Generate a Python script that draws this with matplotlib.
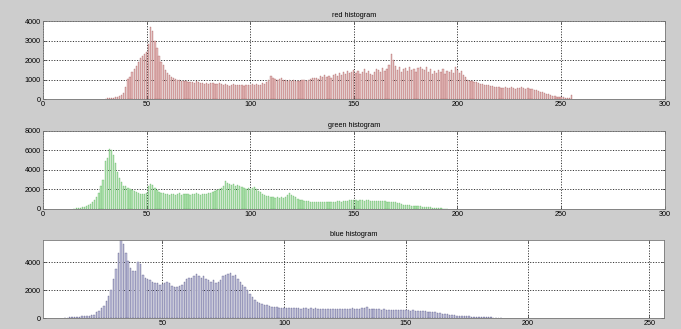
import numpy as np
import matplotlib
matplotlib.use('Agg')
import matplotlib.pyplot as plt

plt.rcParams['font.family'] = ['Liberation Sans', 'DejaVu Sans']

# histogram counts per intensity bin (0..255)
contagem_red = (
    [0] * 30 +
    [20, 30, 40, 50, 60, 80, 110, 150, 220, 320] +              # 30-39
    [600, 1050, 1150, 1400, 1550, 1700, 1900, 2100, 2200, 2300] +   # 40-49
    [2400, 2800, 3700, 3500, 3000, 2600, 2200, 1900, 1750, 1500] +  # 50-59
    [1350, 1250, 1150, 1100, 1050, 1000, 980, 950, 900, 920] +      # 60-69
    [880, 850, 870, 830, 900, 860, 800, 820, 790, 800] +            # 70-79
    [760, 820, 800, 780, 760, 820, 780, 740, 760, 700] +            # 80-89
    [680, 720, 760, 700, 740, 710, 700, 680, 700, 720] +            # 90-99
    [700, 760, 720, 780, 720, 740, 800, 780, 880, 1000] +           # 100-109
    [1200, 1100, 1050, 1000, 1050, 1100, 980, 1000, 950, 1000] +    # 110-119
    [900, 980, 920, 950, 900, 970, 1000, 950, 1000, 1050] +         # 120-129
    [1100, 1080, 1100, 1050, 1200, 1150, 1250, 1150, 1200, 1100] +  # 130-139
    [1250, 1300, 1200, 1350, 1250, 1400, 1300, 1450, 1350, 1400] +  # 140-149
    [1500, 1350, 1450, 1300, 1400, 1550, 1350, 1450, 1300, 1250] +  # 150-159
    [1400, 1550, 1500, 1400, 1600, 1450, 1550, 1750, 2300, 2000] +  # 160-169
    [1700, 1500, 1650, 1400, 1550, 1600, 1450, 1650, 1500, 1550] +  # 170-179
    [1400, 1600, 1650, 1550, 1500, 1650, 1400, 1550, 1300, 1450] +  # 180-189
    [1350, 1500, 1400, 1550, 1300, 1450, 1400, 1500, 1350, 1650] +  # 190-199
    [1500, 1350, 1450, 1250, 1150, 1000, 950, 900, 850, 880] +      # 200-209
    [800, 780, 760, 740, 700, 720, 680, 650, 640, 620] +            # 210-219
    [600, 580, 560, 620, 580, 550, 600, 560, 520, 580] +            # 220-229
    [560, 600, 580, 520, 560, 540, 500, 480, 450, 400] +            # 230-239
    [380, 340, 300, 280, 240, 200, 180, 150, 120, 100] +            # 240-249
    [90, 80, 70, 60, 50, 200]                                       # 250-255
)

contagem_green = (
    [0] * 15 +
    [30, 50, 80, 100, 150] +                                        # 15-19
    [200, 300, 400, 550, 700, 900, 1200, 1600, 2400, 3000] +        # 20-29
    [4900, 5200, 6100, 6000, 5500, 4700, 3800, 3200, 2800, 2400] +  # 30-39
    [2300, 2100, 2000, 1900, 1800, 1700, 1600, 1550, 1500, 1550] +  # 40-49
    [1600, 2300, 2600, 2500, 2100, 1900, 1700, 1650, 1600, 1550] +  # 50-59
    [1500, 1450, 1550, 1500, 1400, 1550, 1600, 1450, 1500, 1550] +  # 60-69
    [1500, 1450, 1550, 1500, 1600, 1500, 1450, 1550, 1500, 1550] +  # 70-79
    [1600, 1650, 1700, 1800, 1900, 2000, 2100, 2300, 2900, 2700] +  # 80-89
    [2600, 2500, 2600, 2400, 2500, 2300, 2200, 2100, 2000, 2100] +  # 90-99
    [2000, 2100, 2200, 2000, 1800, 1700, 1500, 1400, 1300, 1300] +  # 100-109
    [1200, 1250, 1150, 1200, 1100, 1200, 1150, 1250, 1400, 1600] +  # 110-119
    [1400, 1300, 1200, 1000, 950, 900, 850, 800, 780, 760] +        # 120-129
    [750, 720, 760, 740, 720, 700, 740, 720, 760, 730] +            # 130-139
    [740, 760, 780, 800, 760, 820, 800, 850, 880, 900] +            # 140-149
    [950, 880, 860, 900, 880, 850, 870, 880, 840, 820] +            # 150-159
    [860, 820, 800, 780, 820, 800, 760, 740, 720, 760] +            # 160-169
    [700, 650, 600, 550, 450, 400, 380, 360, 340, 320] +            # 170-179
    [300, 280, 260, 240, 220, 200, 170, 150, 120, 100] +            # 180-189
    [80, 60, 50, 40, 30, 20] +                                      # 190-195
    [0] * 60
)

contagem_blue = (
    [0] * 10 +
    [20, 30, 40, 50, 60, 80, 100, 110, 120, 130] +                  # 10-19
    [150, 200, 250, 400, 500, 700, 850, 1200, 1600, 2000] +         # 20-29
    [2800, 3500, 4700, 5600, 5300, 4700, 4100, 3600, 3400, 3400] +  # 30-39
    [4000, 3900, 3100, 2900, 2800, 2700, 2600, 2500, 2500, 2400] +  # 40-49
    [2450, 2550, 2600, 2500, 2300, 2200, 2200, 2300, 2400, 2600] +  # 50-59
    [2800, 2900, 2900, 3000, 3150, 3000, 2900, 3000, 2800, 2750] +  # 60-69
    [2600, 2700, 2500, 2600, 2700, 3000, 3100, 3150, 3250, 3000] +  # 70-79
    [3100, 2800, 2600, 2400, 2200, 2000, 1700, 1500, 1300, 1150] +  # 80-89
    [1050, 1000, 950, 900, 850, 800, 780, 760, 740, 720] +          # 90-99
    [720, 700, 720, 700, 710, 690, 700, 680, 700, 690] +            # 100-109
    [680, 700, 670, 690, 660, 680, 670, 650, 680, 660] +            # 110-119
    [650, 670, 640, 660, 650, 680, 640, 660, 700, 650] +            # 120-129
    [660, 680, 720, 700, 760, 680, 650, 640, 620, 630] +            # 130-139
    [600, 620, 590, 610, 580, 600, 570, 560, 580, 550] +            # 140-149
    [560, 540, 520, 550, 510, 530, 500, 490, 480, 460] +            # 150-159
    [450, 430, 400, 380, 350, 320, 300, 280, 250, 230] +            # 160-169
    [200, 180, 160, 140, 130, 120, 110, 100, 90, 80] +              # 170-179
    [70, 60, 55, 50, 45, 40, 35, 30, 25, 20] +                      # 180-189
    [0] * 66
)

niveis = np.arange(256)

FUNDO = '#cdcdcd'
fs = 5.2


def desenhar_histograma(ax, contagem, cor_barra, cor_borda, titulo, xlim, xticks, ylim, yticks):
    contagem = np.asarray(contagem)
    com_valor = contagem > 0  # bins vazios nao desenham borda no eixo
    ax.bar(niveis[com_valor], contagem[com_valor], width=0.6, color=cor_barra,
           edgecolor=cor_borda, linewidth=0.2, zorder=2)
    ax.set_xlim(*xlim)
    ax.set_ylim(*ylim)
    ax.set_xticks(xticks)
    ax.set_yticks(yticks)
    ax.tick_params(direction='in', length=2.5, width=0.5, labelsize=fs, pad=1.5,
                   top=True, right=True, colors='#333333', labelcolor='black')
    ax.grid(True, linestyle=(0, (1.5, 2.0)), color='black', linewidth=0.55, zorder=1)
    ax.set_axisbelow(True)
    for sp in ax.spines.values():
        sp.set_color('#777777')
        sp.set_linewidth(0.6)
    ax.set_title(titulo, fontsize=fs, pad=3)


fig = plt.figure(figsize=(6.81, 3.29), dpi=100, facecolor=FUNDO)

ax_r = fig.add_axes([0.0631, 0.699, 0.913, 0.237])
ax_g = fig.add_axes([0.0631, 0.365, 0.913, 0.237])
ax_b = fig.add_axes([0.0631, 0.0334, 0.912, 0.237])

desenhar_histograma(ax_r, contagem_red, '#e6bcbc', '#9a4848', 'red histogram',
                    (0, 300), range(0, 301, 50), (0, 4000), range(0, 4001, 1000))
desenhar_histograma(ax_g, contagem_green, '#b4e6b4', '#4aa64a', 'green histogram',
                    (0, 300), range(0, 301, 50), (0, 8000), range(0, 8001, 2000))
desenhar_histograma(ax_b, contagem_blue, '#c2c2dc', '#34346a', 'blue histogram',
                    (1, 256), range(50, 251, 50), (0, 5600), [0, 2000, 4000])

fig.savefig('out.png', dpi=100, facecolor=FUNDO)
